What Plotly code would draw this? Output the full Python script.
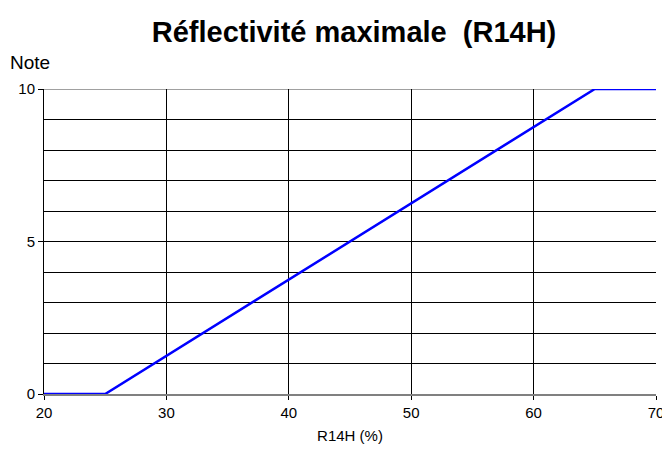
import plotly.graph_objects as go

x_vals = [20, 25, 65, 70]
y_vals = [0, 0, 10, 10]
x_ticks = [20, 30, 40, 50, 60, 70]
y_ticks = [0, 5, 10]

fig = go.Figure()
fig.add_trace(go.Scatter(x=x_vals, y=y_vals, mode="lines",
                         line=dict(color="#0000FF", width=2.5), showlegend=False,
                         cliponaxis=False))

font = "Liberation Sans, Arial, sans-serif"
fig.update_layout(
    width=662, height=453,
    margin=dict(l=44, r=6, t=89, b=59, autoexpand=False),
    paper_bgcolor="white", plot_bgcolor="white",
    font=dict(family=font, color="black", size=15),
    title=dict(text="<b>Réflectivité maximale  (R14H)</b>", x=354/662, xanchor="center",
               y=1 - 32/453, yanchor="middle", font=dict(size=29, family=font)),
    xaxis=dict(range=[20, 70], tickvals=x_ticks, showgrid=True, gridcolor="black", gridwidth=1,
               ticks="outside", ticklen=4, tickcolor="black", zeroline=False,
               showline=True, linecolor="#808080", linewidth=2, automargin=False,
               ticklabeloverflow="allow",
               title=dict(text="R14H (%)", font=dict(size=15), standoff=10),
               tickfont=dict(size=15)),
    yaxis=dict(range=[0, 10], tickvals=y_ticks, showgrid=True, gridcolor="black", gridwidth=1,
               ticks="outside", ticklen=5, tickcolor="black", zeroline=False,
               showline=True, linecolor="black", linewidth=1, automargin=False,
               minor=dict(dtick=1, showgrid=True, gridcolor="black", gridwidth=1, ticks=""),
               tickfont=dict(size=15)),
    annotations=[dict(text="Note", x=-36/612, xref="paper", y=1 + (89-62)/305, yref="paper",
                      xanchor="left", yanchor="middle", showarrow=False,
                      font=dict(size=19))],
)
fig.add_shape(type="line", xref="x", yref="y", x0=20, x1=70, y0=10, y1=10,
              line=dict(color="#808080", width=1.5), layer="below")
fig.write_html("out.html", config={"displayModeBar": False},
               post_script="document.body.style.margin='0';document.body.style.overflow='hidden';")
